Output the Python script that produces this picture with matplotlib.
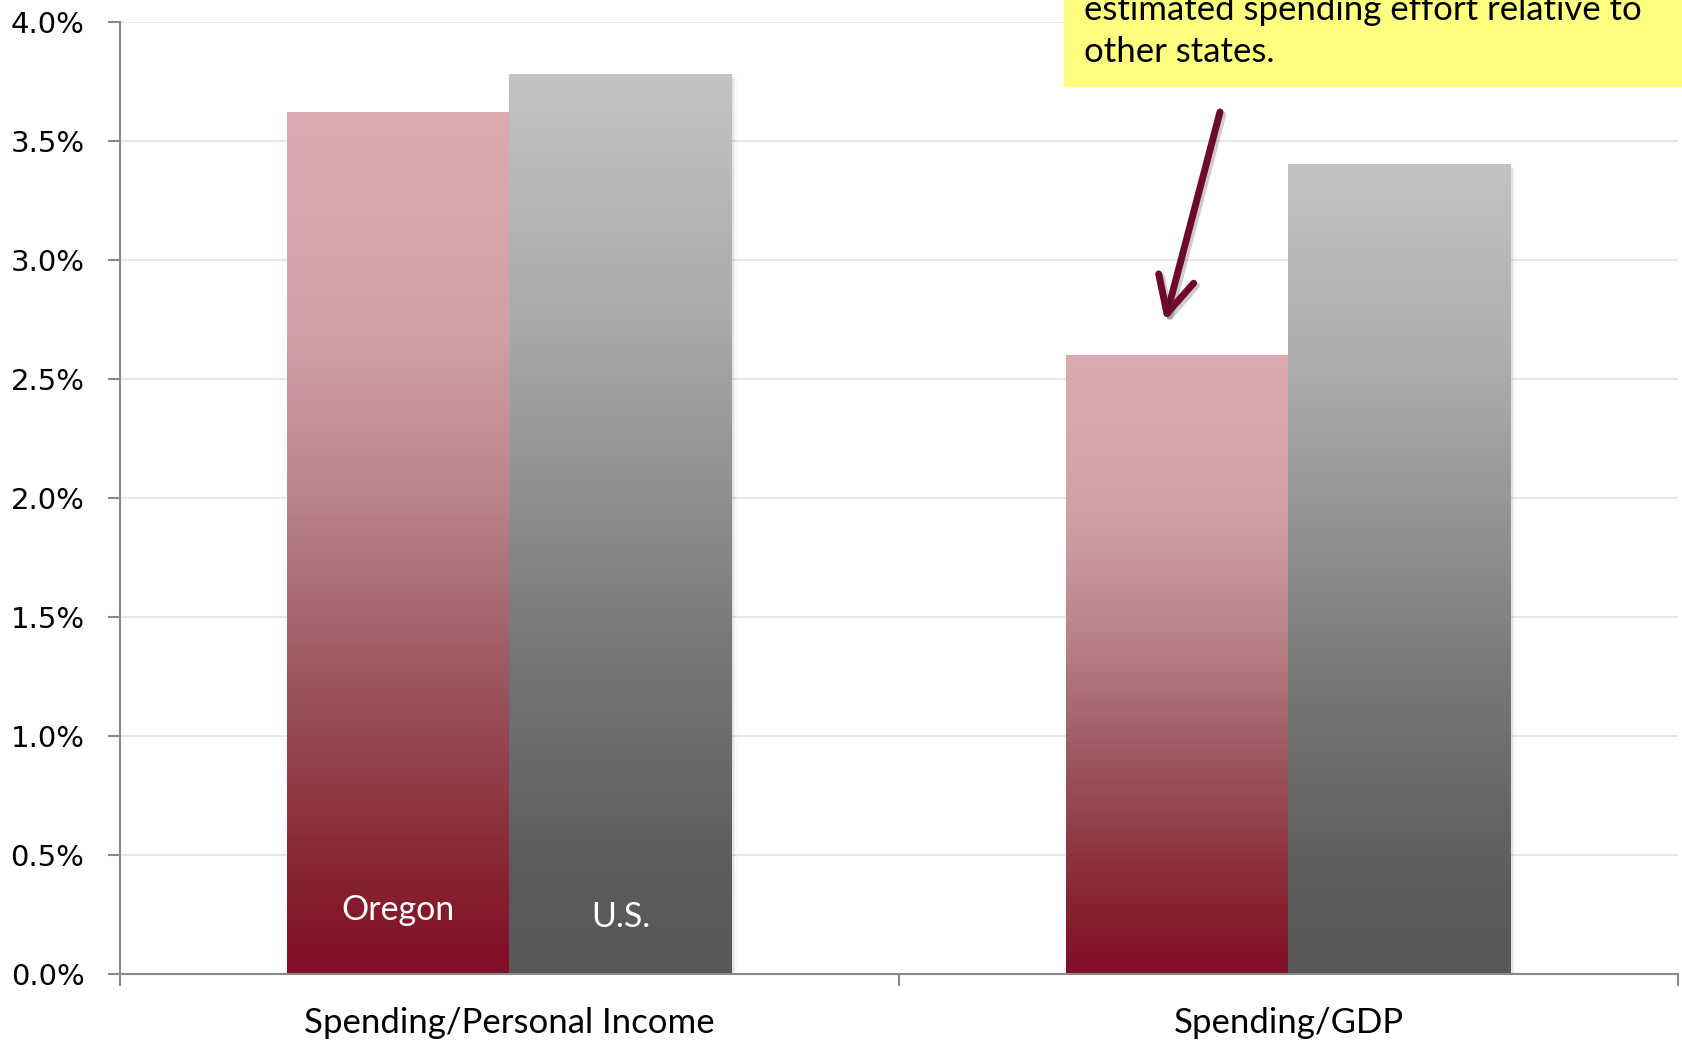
import numpy as np
import matplotlib
matplotlib.use('Agg')
import matplotlib.pyplot as plt
import matplotlib.patheffects as pe
from matplotlib.colors import LinearSegmentedColormap
from matplotlib.patches import Rectangle
from matplotlib.ticker import FuncFormatter

# spending as share of income / GDP, Oregon vs U.S.
categories = ['Spending/Personal Income', 'Spending/GDP']
series_names = ['Oregon', 'U.S.']
oregon = [3.62, 2.60]
us = [3.78, 3.40]
y_ticks = [0.0, 0.5, 1.0, 1.5, 2.0, 2.5, 3.0, 3.5, 4.0]
note = 'estimated spending effort relative to\nother states.'

plt.rcParams['font.family'] = ['Lato', 'DejaVu Sans']

fig = plt.figure(figsize=(16.83, 10.40), dpi=100)
ax = fig.add_axes([120 / 1683, 1 - 974 / 1040, 1558 / 1683, 952 / 1040])

x = np.arange(len(categories))
w = 0.286

# bottom -> top gradient stops
oregon_cmap = LinearSegmentedColormap.from_list(
    'oregon', [(0.0, '#820c27'), (0.11, '#86232f'), (0.36, '#9e5a62'),
               (0.55, '#b98489'), (0.74, '#d0a0a6'), (1.0, '#dcabb2')])
us_cmap = LinearSegmentedColormap.from_list(
    'us', [(0.0, '#585858'), (0.11, '#5c5c5c'), (0.36, '#777777'),
           (0.55, '#929292'), (0.74, '#ababab'), (1.0, '#c3c3c3')])
grad = np.linspace(0, 1, 256).reshape(-1, 1)


def gradient_bars(xpos, vals, cmap):
    bars = ax.bar(xpos, vals, w, color='none', edgecolor='none', zorder=3)
    for b in bars:
        x0, y0 = b.get_x(), b.get_y()
        bw, bh = b.get_width(), b.get_height()
        # faint drop shadow
        for k, a in enumerate([0.05, 0.035, 0.02]):
            ax.add_patch(Rectangle((x0 + 0.002 * (k + 1), y0 - 0.006 * (k + 1)), bw, bh,
                                   facecolor='k', alpha=a, lw=0, zorder=2))
        ax.imshow(grad, cmap=cmap, origin='lower', aspect='auto',
                  extent=[x0, x0 + bw, y0, y0 + bh], zorder=3)
    return bars


gradient_bars(x - w / 2, oregon, oregon_cmap)
gradient_bars(x + w / 2, us, us_cmap)

ax.set_xlim(-0.5, 1.5)
ax.set_ylim(0, 4.0)

# series names written inside the first pair of bars
ax.text(x[0] - w / 2, 0.27, series_names[0], ha='center', va='center',
        color='white', fontsize=24.5, zorder=5)
ax.text(x[0] + w / 2, 0.24, series_names[1], ha='center', va='center',
        color='white', fontsize=24.5, zorder=5)

ax.set_yticks(y_ticks)
ax.yaxis.set_major_formatter(FuncFormatter(lambda v, p: f'{v:.1f}%'))
ax.set_xticks([-0.5, 0.5, 1.5])
ax.set_xticklabels([])
ax.set_xticks(x, minor=True)
ax.set_xticklabels(categories, minor=True, fontsize=25)
ax.tick_params(axis='x', which='minor', length=0, pad=24)
ax.tick_params(axis='both', which='major', length=8.6, width=1.5, color='#898989')
ax.tick_params(axis='y', pad=17)
for lab in ax.get_yticklabels():
    lab.set_fontfamily('DejaVu Sans')
    lab.set_fontsize(21)

ax.grid(axis='y', color='#e0e0e0', lw=1.1, zorder=0)
ax.set_axisbelow(True)
for s in ['top', 'right']:
    ax.spines[s].set_visible(False)
for s in ['left', 'bottom']:
    ax.spines[s].set_color('#898989')
    ax.spines[s].set_linewidth(1.5)
    ax.spines[s].set_zorder(4)

# yellow callout box in the upper right
fig.patches.append(Rectangle((1064 / 1683, 1 - 87 / 1040), 1, 87 / 1040,
                             transform=fig.transFigure, facecolor='#ffff7f',
                             edgecolor='none', zorder=1))
fig.text(1084 / 1683, 1 - 31 / 1040, note, ha='left', va='center',
         fontsize=25, linespacing=1.35, zorder=2)

# arrow pointing at the Oregon GDP bar
ann = ax.annotate('', xy=(1165, 1040 - 321), xycoords='figure pixels',
                  xytext=(1220, 1040 - 112), textcoords='figure pixels',
                  arrowprops=dict(arrowstyle='->,head_length=2.6,head_width=1.3',
                                  mutation_scale=10, lw=5, color='#6d0a2e',
                                  capstyle='round', joinstyle='round',
                                  shrinkA=0, shrinkB=0))
ann.arrow_patch.set_path_effects([pe.SimpleLineShadow(offset=(2, -2), alpha=0.2),
                                  pe.Normal()])

fig.savefig('out.png', dpi=100)
